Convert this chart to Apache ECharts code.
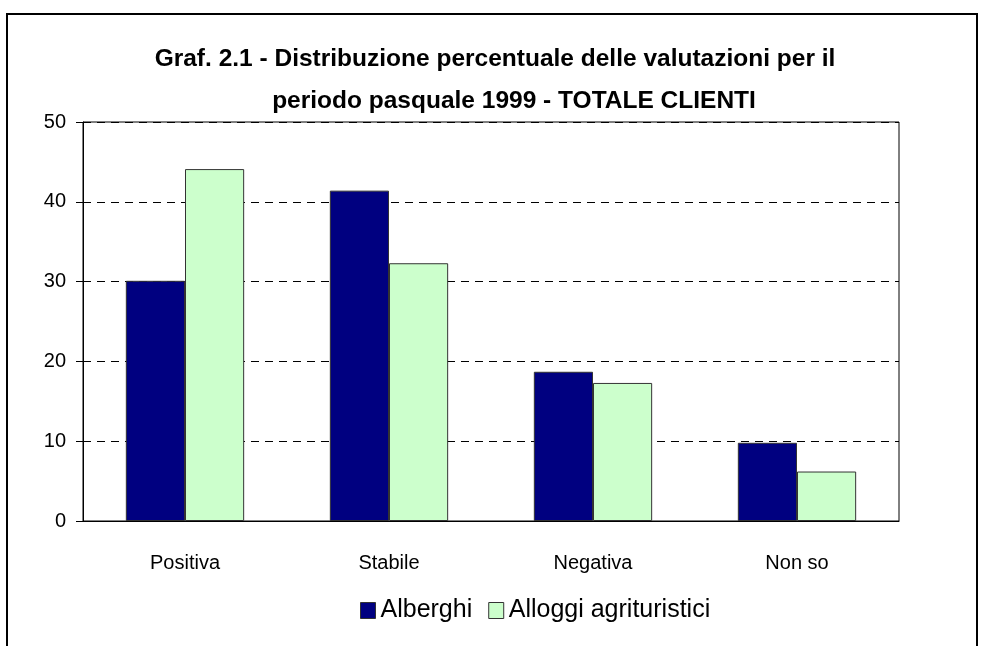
<!DOCTYPE html>
<html><head><meta charset="utf-8">
<script src="https://cdn.jsdelivr.net/npm/echarts@6/dist/echarts.min.js"></script>
<style>html,body{margin:0;padding:0;background:#fff}#c{width:982px;height:646px}</style>
</head><body><div id="c"></div>
<script>
const categories = ['Positiva', 'Stabile', 'Negativa', 'Non so'];
const seriesNames = ['Alberghi', 'Alloggi agrituristici'];
const alberghi = [30.1, 41.4, 18.7, 9.8];
const alloggi = [44.1, 32.3, 17.3, 6.2];
const titleLines = ['Graf. 2.1 - Distribuzione percentuale delle valutazioni per il', 'periodo pasquale 1999 - TOTALE CLIENTI'];

const chart = echarts.init(document.getElementById('c'), null, {renderer: 'canvas'});
const font = 'Liberation Sans, Arial, sans-serif';
const titleStyle = {fontFamily: font, fontWeight: 'bold', fontSize: 24.5, lineHeight: 30, color: '#000'};
chart.setOption({
  animation: false,
  backgroundColor: '#fff',
  title: [
    {text: titleLines[0], left: 490, textAlign: 'center', top: 39, textStyle: titleStyle},
    {text: titleLines[1], left: 509, textAlign: 'center', top: 81, textStyle: titleStyle}
  ],
  legend: {
    data: seriesNames,
    left: 360, top: 598, padding: 0,
    itemWidth: 15, itemHeight: 16, itemGap: 16,
    icon: 'rect',
    textStyle: {fontFamily: font, fontSize: 25, color: '#000', padding: [10, 0, 0, 0]},
    itemStyle: {borderColor: '#333', borderWidth: 1}
  },
  grid: {left: 83, right: 83, top: 122, bottom: 125, show: true, borderColor: '#000', borderWidth: 1},
  xAxis: {
    type: 'category', data: categories,
    axisLine: {lineStyle: {color: '#000', width: 1}},
    axisTick: {show: false},
    axisLabel: {fontFamily: font, fontSize: 20, color: '#000', margin: 32}
  },
  yAxis: {
    type: 'value', min: 0, max: 50, interval: 10,
    axisLine: {show: true, lineStyle: {color: '#000', width: 1}},
    axisTick: {show: true, length: 7, lineStyle: {color: '#000'}},
    axisLabel: {fontFamily: font, fontSize: 20, color: '#000', margin: 17},
    splitLine: {show: true, lineStyle: {color: '#000', type: [8, 6], width: 1}}
  },
  series: [
    {name: seriesNames[0], type: 'bar', data: alberghi, barGap: '0%', barCategoryGap: '42%',
     itemStyle: {color: '#000080', borderColor: '#333', borderWidth: 1}},
    {name: seriesNames[1], type: 'bar', data: alloggi,
     itemStyle: {color: '#CCFFCC', borderColor: '#333', borderWidth: 1}}
  ],
  graphic: [
    {type: 'polyline', shape: {points: [[7, 646], [7, 14], [977, 14], [977, 646]]},
     style: {stroke: '#000', lineWidth: 2, fill: null}, silent: true}
  ]
});
</script></body></html>
